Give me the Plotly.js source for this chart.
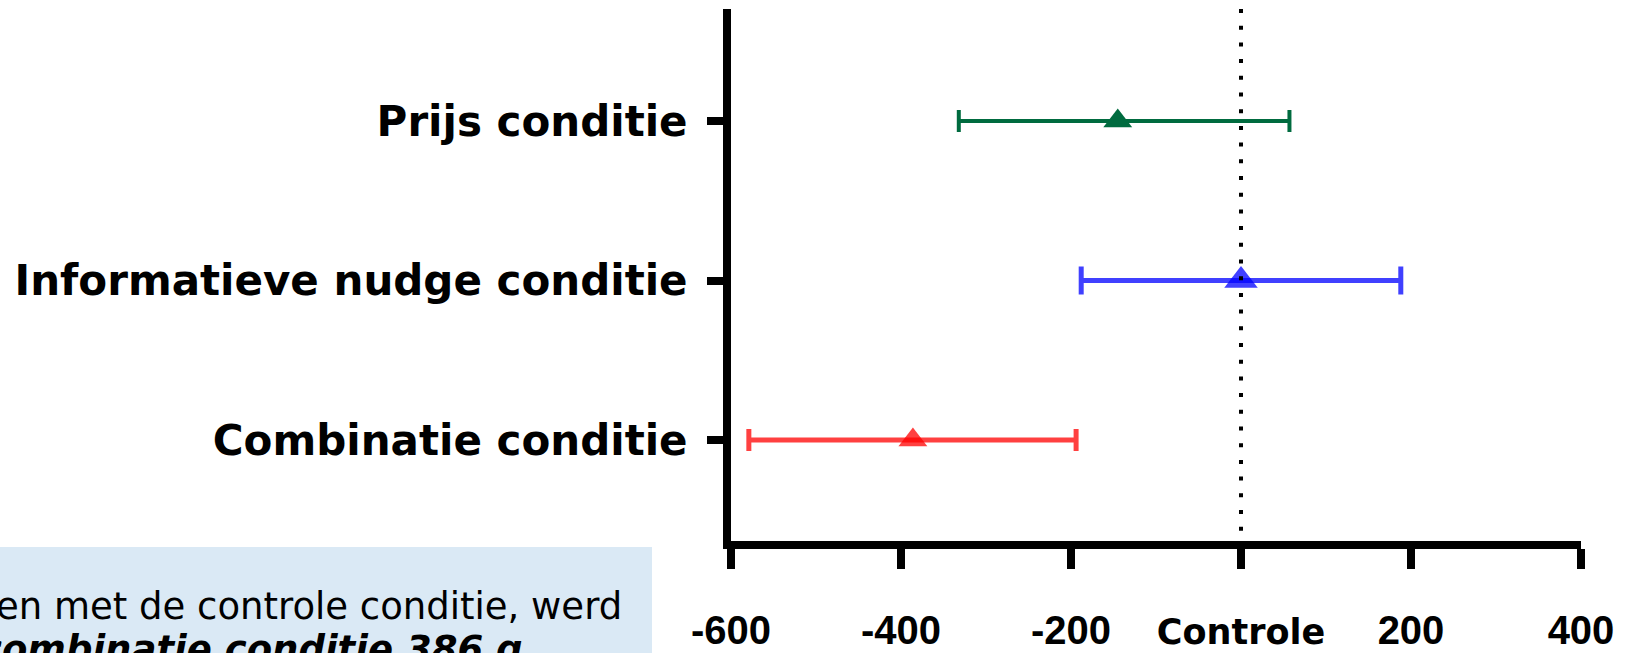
<!DOCTYPE html>
<html><head><meta charset="utf-8">
<script src="https://cdn.plot.ly/plotly-3.0.1.min.js"></script>
<style>html,body{margin:0;padding:0;background:#fff;overflow:hidden}#chart{width:1628px;height:653px;}</style>
</head><body><div id="chart"></div>
<script>
// ---- data ----
const categories = ['Combinatie conditie', 'Informatieve nudge conditie', 'Prijs conditie'];
const means = [-386, 0, -145];
const ciLow = [-579, -188, -332];
const ciHigh = [-194, 188, 57];
const xTickVals = [-600, -400, -200, 0, 200, 400];
const xTickText = ['-600', '-400', '-200', 'Controle', '200', '400'];
const noteLine1 = 'en met de controle conditie, werd';
const noteLine2 = 'combinatie conditie 386 g';

// ---- styles ----
const colors = ['rgba(255,0,0,0.75)', 'rgba(0,0,255,0.75)', '#006B3F'];
const markerSizes = [25, 29, 25];
const barThick = [5, 5, 4];
const capHalf = [11, 14, 11];

const W = 1628, H = 653;
const M = {l: 731, r: 47, t: 9, b: 112};
const PW = W - M.l - M.r, PH = H - M.t - M.b;
const px2x = p => (p - M.l) / PW;
const px2y = p => (H - M.b - p) / PH;

const traces = categories.map((c, i) => ({
  type: 'scatter', mode: 'markers',
  x: [means[i]], y: [c],
  marker: {symbol: 'triangle-up', size: markerSizes[i], color: colors[i], line: {width: 0}},
  error_x: {type: 'data', symmetric: false,
    array: [ciHigh[i] - means[i]], arrayminus: [means[i] - ciLow[i]],
    color: colors[i], thickness: barThick[i], width: capHalf[i]},
  showlegend: false, hoverinfo: 'skip', cliponaxis: false
}));

const ctrl = '<span style="font-family:\'DejaVu Sans\';font-size:35px;font-weight:bold">Controle</span>';

const layout = {
  width: W, height: H,
  margin: M,
  paper_bgcolor: '#fff', plot_bgcolor: '#fff',
  showlegend: false,
  xaxis: {
    range: [-600, 400], tickmode: 'array', tickvals: xTickVals,
    ticktext: xTickText.map(t => t === 'Controle' ? ctrl : t),
    showgrid: false, zeroline: false,
    showline: true, linecolor: '#000', linewidth: 8,
    ticks: 'outside', ticklen: 20, tickwidth: 8, tickcolor: '#000',
    ticklabelstandoff: 27,
    tickfont: {family: "'Liberation Sans', Arial, sans-serif", size: 40, weight: 'bold', color: '#000'},
    fixedrange: true
  },
  yaxis: {
    type: 'category', categoryorder: 'array', categoryarray: categories,
    range: [-0.633, 2.702],
    showgrid: false, zeroline: false,
    showline: true, linecolor: '#000', linewidth: 8,
    ticks: 'outside', ticklen: 16, tickwidth: 8, tickcolor: '#000',
    ticklabelstandoff: 11,
    tickfont: {family: "'DejaVu Sans', Verdana, sans-serif", size: 42, weight: 'bold', color: '#000'},
    fixedrange: true
  },
  shapes: [
    {type: 'line', xref: 'x', yref: 'paper', x0: 0, x1: 0, y0: 1, y1: 0,
     line: {color: '#000', width: 4, dash: '4px,12.7px'}, layer: 'above'},
    {type: 'rect', xref: 'paper', yref: 'paper',
     x0: px2x(0), x1: px2x(652), y0: px2y(653), y1: px2y(547),
     fillcolor: '#DAE9F5', line: {width: 0}, layer: 'below'}
  ],
  annotations: [
    {xref: 'paper', yref: 'paper', x: px2x(624), y: px2y(606), xanchor: 'right', yanchor: 'middle',
     showarrow: false, text: noteLine1,
     font: {family: "'DejaVu Sans', Verdana, sans-serif", size: 37, color: '#000'}},
    {xref: 'paper', yref: 'paper', x: px2x(525), y: px2y(649), xanchor: 'right', yanchor: 'middle',
     showarrow: false, text: noteLine2,
     font: {family: "'DejaVu Sans', Verdana, sans-serif", size: 37, color: '#000', weight: 'bold', style: 'italic'}}
  ]
};

Plotly.newPlot('chart', traces, layout, {displayModeBar: false, staticPlot: true});
</script></body></html>
